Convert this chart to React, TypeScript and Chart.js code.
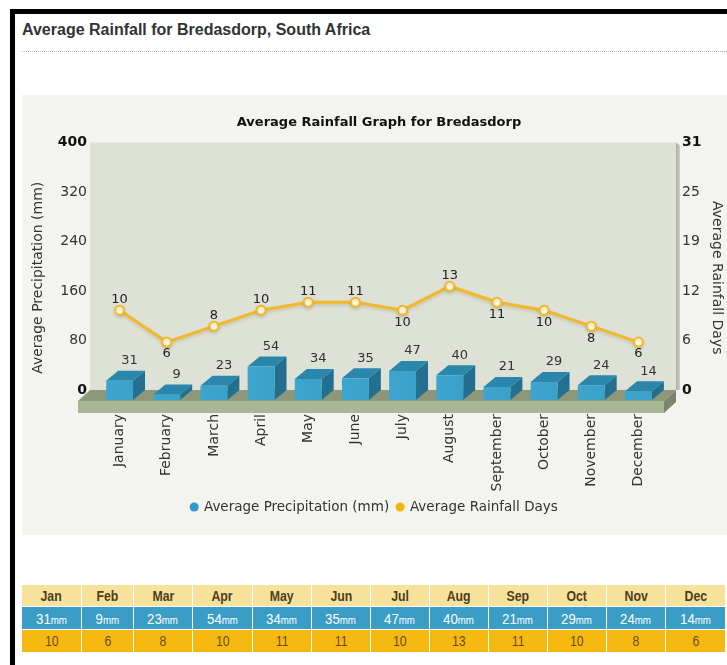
import React, { useEffect, useRef } from "react";
import { Chart, registerables } from "chart.js";

Chart.register(...registerables);

// ---------- data ----------
const MONTHS = ["January", "February", "March", "April", "May", "June", "July", "August", "September", "October", "November", "December"];
const MONTHS_SHORT = ["Jan", "Feb", "Mar", "Apr", "May", "Jun", "Jul", "Aug", "Sep", "Oct", "Nov", "Dec"];
const PRECIP_MM = [31, 9, 23, 54, 34, 35, 47, 40, 21, 29, 24, 14];
const RAIN_DAYS = [10, 6, 8, 10, 11, 11, 10, 13, 11, 10, 8, 6];
const PRECIP_TICKS = [0, 80, 160, 240, 320, 400];
const DAYS_TICKS = [0, 6.2, 12.4, 18.6, 24.8, 31];

// ---------- styles ----------
const FONT = '"DejaVu Sans", Verdana, sans-serif';
const TABLE_FONT = '"Liberation Sans", Arial, sans-serif';
const BLUE = "#3aa1c9";
const BLUE_TOP = "#2b86ac";
const BLUE_SIDE = "#236f8f";
const GOLD = "#f0b82a";
const LEGEND_COLORS = ["#3399cc", "#f2b50f"];
const COL_W = [60, 52, 59, 60, 59, 59, 59, 59, 59, 59, 59, 60];

const DX = 12; // 3D depth offsets
const DY = 10;
const FLOOR = 23; // floor depth + thickness below the zero line (px)
const PX_PER_MM = 247.5 / 400; // plot height / axis range
const PX_PER_DAY = 247.5 / 31;

const threeD = {
  id: "threeD",
  beforeDraw(chart: any) {
    const { ctx, chartArea } = chart;
    const L = chartArea.left, R = chartArea.right, T = chartArea.top;
    const B = chart.scales.y.getPixelForValue(0);
    ctx.save();
    // back wall
    ctx.fillStyle = "#dde1d6";
    ctx.fillRect(L - 6, T, R + 14 - (L - 6), B - T);
    // right wall edge
    const g = ctx.createLinearGradient(R + 14, 0, R + 19, 0);
    g.addColorStop(0, "#a9ada2");
    g.addColorStop(1, "#d6d9cf");
    ctx.fillStyle = g;
    ctx.beginPath();
    ctx.moveTo(R + 14, T);
    ctx.lineTo(R + 18, T + 3);
    ctx.lineTo(R + 18, B);
    ctx.lineTo(R + 14, B);
    ctx.closePath();
    ctx.fill();
    // floor top
    ctx.fillStyle = "#8f977a";
    ctx.beginPath();
    ctx.moveTo(L - 6, B);
    ctx.lineTo(R + 14, B);
    ctx.lineTo(R + 2, B + 11);
    ctx.lineTo(L - 18, B + 11);
    ctx.closePath();
    ctx.fill();
    // floor front
    ctx.fillStyle = "#a9b794";
    ctx.fillRect(L - 18, B + 11, R + 2 - (L - 18), 12);
    // floor right
    ctx.fillStyle = "#7c846a";
    ctx.beginPath();
    ctx.moveTo(R + 14, B);
    ctx.lineTo(R + 2, B + 11);
    ctx.lineTo(R + 2, B + 23);
    ctx.lineTo(R + 14, B + 12);
    ctx.closePath();
    ctx.fill();
    ctx.restore();
  },
  beforeDatasetDraw(chart: any, args: any) {
    if (args.index === 1) {
      const ctx = chart.ctx;
      ctx.save();
      ctx.shadowColor = "rgba(150,120,40,0.25)";
      ctx.shadowBlur = 3;
      ctx.shadowOffsetY = 2;
    }
  },
  afterDatasetDraw(chart: any, args: any) {
    const ctx = chart.ctx;
    if (args.index === 1) {
      ctx.restore();
      return;
    }
    if (args.index !== 0) return;
    ctx.save();
    args.meta.data.forEach((el: any, i: number) => {
      const { x, y, base, width } = el.getProps(["x", "y", "base", "width"], true);
      const l = x - width / 2;
      const r = x + width / 2;
      const ft = y + DY;
      const fb = base + DY;
      // side
      ctx.fillStyle = BLUE_SIDE;
      ctx.beginPath();
      ctx.moveTo(r, ft);
      ctx.lineTo(r + DX, ft - DY);
      ctx.lineTo(r + DX, fb - DY);
      ctx.lineTo(r, fb);
      ctx.closePath();
      ctx.fill();
      // top
      ctx.fillStyle = BLUE_TOP;
      ctx.beginPath();
      ctx.moveTo(l, ft);
      ctx.lineTo(r, ft);
      ctx.lineTo(r + DX, ft - DY);
      ctx.lineTo(l + DX, ft - DY);
      ctx.closePath();
      ctx.fill();
      // front
      const fg = ctx.createLinearGradient(l, 0, r, 0);
      fg.addColorStop(0, "#3da6ce");
      fg.addColorStop(1, BLUE);
      ctx.fillStyle = fg;
      ctx.fillRect(l, ft, width, fb - ft);
      // value label
      ctx.fillStyle = "#333";
      ctx.font = `13px ${FONT}`;
      ctx.textAlign = "center";
      ctx.textBaseline = "middle";
      ctx.fillText(String(PRECIP_MM[i]), x + 10, y - 10);
    });
    ctx.restore();
  },
  afterDatasetsDraw(chart: any) {
    const ctx = chart.ctx;
    const meta = chart.getDatasetMeta(1);
    ctx.save();
    ctx.fillStyle = "#222";
    ctx.font = `13px ${FONT}`;
    ctx.textAlign = "center";
    ctx.textBaseline = "middle";
    meta.data.forEach((el: any, i: number) => {
      const v = RAIN_DAYS[i];
      const above = i === 0 || v >= RAIN_DAYS[i - 1];
      ctx.fillText(String(v), el.x, above ? el.y - 11 : el.y + 12);
    });
    ctx.restore();
  },
};

function ChartPanel() {
  const ref = useRef<HTMLCanvasElement>(null);
  useEffect(() => {
    const canvas = ref.current!;
    const boldEnds = (c: any) => ({
      family: FONT,
      size: 14,
      weight: c.index === 0 || c.index === 5 ? "bold" : "normal",
    });
    const boldColor = (c: any) => (c.index === 0 || c.index === 5 ? "#111" : "#333");
    const chart = new Chart(canvas, {
      type: "bar",
      data: {
        labels: MONTHS,
        datasets: [
          {
            type: "bar",
            label: "Average Precipitation (mm)",
            data: PRECIP_MM,
            yAxisID: "y",
            backgroundColor: "rgba(0,0,0,0)",
            borderWidth: 0,
            categoryPercentage: 1,
            barPercentage: 0.57,
            order: 1,
          },
          {
            type: "line",
            label: "Average Rainfall Days",
            data: RAIN_DAYS,
            yAxisID: "y2",
            borderColor: GOLD,
            backgroundColor: LEGEND_COLORS[1],
            borderWidth: 3,
            pointRadius: 4.5,
            pointBorderWidth: 2,
            pointBackgroundColor: "#fffbe8",
            pointBorderColor: GOLD,
            tension: 0,
            order: 0,
          },
        ],
      } as any,
      options: {
        animation: false,
        responsive: false,
        maintainAspectRatio: false,
        layout: { padding: { top: 0, left: 0, right: 0, bottom: 11.25 } },
        plugins: {
          title: {
            display: true,
            text: "Average Rainfall Graph for Bredasdorp",
            fullSize: false,
            color: "#111",
            font: { family: FONT, size: 13, weight: "bold" },
            padding: { top: 20.2, bottom: 11.7 },
          },
          legend: {
            position: "bottom",
            labels: {
              usePointStyle: true,
              pointStyle: "circle",
              boxWidth: 6,
              boxHeight: 6.4,
              padding: 8,
              color: "#333",
              font: { family: FONT, size: 13.5 },
              sort: (a: any, b: any) => a.datasetIndex - b.datasetIndex,
              generateLabels: (c: any) => {
                const items = (Chart.defaults.plugins.legend.labels as any).generateLabels(c);
                items.forEach((it: any) => {
                  const col = LEGEND_COLORS[it.datasetIndex];
                  it.fillStyle = col;
                  it.strokeStyle = col;
                  it.lineWidth = 0;
                  it.pointStyle = "circle";
                });
                return items;
              },
            },
          },
          tooltip: { enabled: false },
        },
        scales: {
          x: {
            grid: { display: false, drawTicks: false },
            border: { display: false },
            ticks: {
              minRotation: 90,
              maxRotation: 90,
              autoSkip: false,
              padding: 1,
              color: "#333",
              font: { family: FONT, size: 14 },
            },
            afterFit: (s: any) => {
              s.height = 79.25;
            },
          },
          y: {
            position: "left",
            min: -FLOOR / PX_PER_MM,
            max: 400,
            afterBuildTicks: (s: any) => {
              s.ticks = PRECIP_TICKS.map((v) => ({ value: v }));
            },
            grid: { display: false, drawTicks: false },
            border: { display: false },
            ticks: { padding: 9, font: boldEnds as any, color: boldColor as any },
            title: {
              display: true,
              text: "Average Precipitation (mm)",
              color: "#333",
              font: { family: FONT, size: 14 },
              padding: { top: 7.6, bottom: 0 },
            },
            afterFit: (s: any) => {
              s.width = 74;
            },
          },
          y2: {
            position: "right",
            min: -FLOOR / PX_PER_DAY,
            max: 31,
            afterBuildTicks: (s: any) => {
              s.ticks = DAYS_TICKS.map((v) => ({ value: v }));
            },
            grid: { display: false, drawTicks: false },
            border: { display: false },
            ticks: {
              padding: 20,
              font: boldEnds as any,
              color: boldColor as any,
              callback: (v: any) => String(Math.round(Number(v))),
            },
            title: {
              display: true,
              text: "Average Rainfall Days",
              color: "#333",
              font: { family: FONT, size: 14 },
              padding: { top: 1.6, bottom: 0 },
            },
            afterFit: (s: any) => {
              s.width = 65;
            },
          },
        },
      } as any,
      plugins: [threeD],
    });
    return () => chart.destroy();
  }, []);
  return <canvas ref={ref} width={705} height={440} style={{ display: "block", width: 705, height: 440 }} />;
}

function Row({ cells, bg, color, height, bold }: { cells: React.ReactNode[]; bg: string; color: string; height: number; bold?: boolean }) {
  return (
    <div style={{ display: "flex", height, borderBottom: "1px solid #fff", boxSizing: "border-box" }}>
      {cells.map((c, i) => (
        <div
          key={i}
          style={{
            width: COL_W[i],
            boxSizing: "border-box",
            borderRight: "1px solid #fff",
            background: bg,
            color,
            display: "flex",
            alignItems: "center",
            justifyContent: "center",
            fontFamily: TABLE_FONT,
            fontSize: 14,
            fontWeight: bold ? "bold" : "normal",
            whiteSpace: "nowrap",
          }}
        >
          <span style={{ display: "inline-block", transform: "scaleX(0.88)" }}>{c}</span>
        </div>
      ))}
    </div>
  );
}

export default function App() {
  return (
    <div style={{ position: "fixed", left: 0, top: 0, width: 727, height: 665, overflow: "hidden", background: "#fff" }}>
      <div style={{ position: "absolute", left: 10, top: 9, right: -20, bottom: -20, borderLeft: "5px solid #000", borderTop: "5px solid #000" }} />
      <div
        style={{
          position: "absolute",
          left: 22,
          top: 21,
          font: 'bold 16px "Liberation Sans", Arial, sans-serif',
          lineHeight: "18px",
          color: "#333",
          whiteSpace: "nowrap",
        }}
      >
        Average Rainfall for Bredasdorp, South Africa
      </div>
      <div style={{ position: "absolute", left: 22, right: 0, top: 51, borderTop: "1px dotted #b5b5b5" }} />
      <div style={{ position: "absolute", left: 22, top: 95, width: 705, height: 440, background: "#f3f3ef" }}>
        <ChartPanel />
      </div>
      <div style={{ position: "absolute", left: 22, top: 585 }}>
        <Row cells={MONTHS_SHORT} bg="#f6e29a" color="#4d3f22" height={22} bold />
        <Row
          cells={PRECIP_MM.map((v) => (
            <span>
              <span style={{ fontSize: 15 }}>{v}</span>
              <span style={{ fontSize: 11 }}>mm</span>
            </span>
          ))}
          bg="#3a9dc6"
          color="#fff"
          height={23}
        />
        <Row cells={RAIN_DAYS.map((v) => String(v))} bg="#f5b912" color="#6a4c12" height={23} />
      </div>
    </div>
  );
}
